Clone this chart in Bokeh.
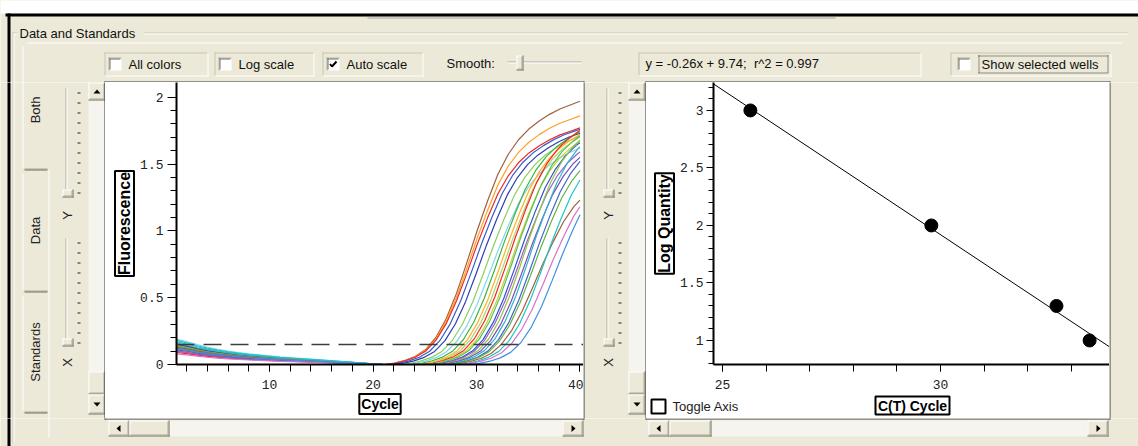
import numpy as np
from bokeh.plotting import figure
from bokeh.layouts import column, row
from bokeh.models import Range1d, Span, FixedTicker, NumeralTickFormatter, Title
from bokeh.embed import file_html
from bokeh.resources import INLINE
from bokeh.core.properties import value

# ------------------------------------------------------------------ data
# baseline part of the amplification curves (relative to each curve's start level)
BASE_CYCLES = list(range(1, 22))
BASE_SHAPE = [1.00, 0.90, 0.78, 0.68, 0.60, 0.53, 0.47, 0.42, 0.38, 0.34, 0.30,
              0.27, 0.24, 0.21, 0.18, 0.15, 0.12, 0.09, 0.06, 0.03, 0.00]
# rising part of the earliest (brown) curve, read cycle by cycle
RISE_CYCLES = list(range(21, 41))
RISE_REF = [0.00, 0.01, 0.03, 0.06, 0.11, 0.20, 0.34, 0.53, 0.76, 1.00,
            1.22, 1.42, 1.57, 1.68, 1.76, 1.82, 1.87, 1.91, 1.94, 1.97]
# per well: colour, cycle where it crosses the threshold, value at cycle 40, value at cycle 1
CURVE_COLORS = ["#A0603C", "#FFA020", "#F02828", "#3A5CC8", "#2840B0", "#8CD05C",
                "#88D4EC", "#3CB43C", "#FFB028", "#A4D870", "#FF2020", "#C4D034",
                "#58C058", "#3050D0", "#9464C4", "#94C444", "#7C50B4", "#30B4D4",
                "#4464CC", "#64B444", "#A0603C", "#20C4C8", "#D474CC", "#4090E0"]
CURVE_CT = [25.5, 25.6, 25.7, 26.1, 26.6, 27.3, 27.8, 28.3, 28.7, 29.0, 29.3, 29.6,
            29.8, 30.2, 30.4, 30.7, 31.0, 31.3, 31.7, 31.9, 32.4, 32.8, 33.3, 34.1]
CURVE_END = [1.97, 1.86, 1.77, 1.76, 1.73, 1.71, 1.62, 1.74, 1.72, 1.70, 1.75, 1.67,
             1.71, 1.66, 1.59, 1.68, 1.55, 1.63, 1.52, 1.45, 1.23, 1.38, 1.18, 1.12]
CURVE_START = [0.14, 0.12, 0.10, 0.15, 0.13, 0.12, 0.19, 0.13, 0.11, 0.14, 0.09, 0.12,
               0.16, 0.15, 0.10, 0.13, 0.12, 0.17, 0.11, 0.14, 0.13, 0.18, 0.08, 0.12]
THRESHOLD = 0.15
LAST_CYCLE = 40

# standards
STD_CT = [25.64, 29.79, 32.66, 33.42]
STD_LOGQ = [3.0, 2.0, 1.3, 1.0]
FIT_TEXT = "y = -0.26x + 9.74;\u00a0 r^2 = 0.997"

AMP_X_TICKS = [10, 20, 30, 40]
AMP_X_MINOR = list(range(2, 41, 2))
AMP_Y_TICKS = [0, 0.5, 1, 1.5, 2]
AMP_Y_MINOR = [round(0.1 * k, 1) for k in range(0, 21)]
STD_X_TICKS = [25, 30]
STD_X_MINOR = list(range(25, 34))
STD_Y_TICKS = [1, 1.5, 2, 2.5, 3]
STD_Y_MINOR = [round(0.1 * k, 1) for k in range(8, 33)]

CHECK_LABELS = ["All colors", "Log scale", "Auto scale"]
TAB_LABELS = ["Both", "Data", "Standards"]

# ------------------------------------------------------------------ layout
W, H = 1138, 446
TOP_H, MID_H, BOT_H = 82, 336, 28
STRIP_Y = 394
BEIGE = "#ECE9D8"
ETCH = "#C8C5B4"
SHADOW = "#ACA899"
DARK = "#716F64"
TRACK = "#F5F4EE"
BORDER = "#3A3A3A"
UI_FONT = "Liberation Sans"

AMP_FRAME = (176, 82, 583, 364)
AMP_XR = (1, 40.34)
AMP_YR = (0, 2.11)
STD_FRAME = (713, 82, 1109, 364)
STD_XR = (24.794, 33.876)
STD_YR = (0.791, 3.243)


def chrome_fig(x0, y0, w, h, bg):
    f = figure(width=w, height=h, x_range=Range1d(x0, x0 + w), y_range=Range1d(y0 + h, y0),
               output_backend="svg", toolbar_location=None, title=None,
               x_axis_location=None, y_axis_location=None, min_border=0,
               frame_align=False)
    f.grid.visible = False
    f.outline_line_color = None
    f.background_fill_color = bg
    f.border_fill_color = bg
    return f


CH = []


def add_region(x0, y0, w, h, bg=BEIGE):
    f = chrome_fig(x0, y0, w, h, bg)
    CH.append((f, (x0, y0, x0 + w, y0 + h)))
    return f


def on(x0, y0, x1, y1):
    return [f for f, (a, b, c, d) in CH if x0 < c and x1 > a and y0 < d and y1 > b]


def box(x0, y0, x1, y1, fill, line=None, lw=1):
    for f in on(x0, y0, x1, y1):
        f.quad(left=[x0], right=[x1], top=[y0], bottom=[y1], fill_color=fill,
               line_color=line, line_width=lw)


def hline(x0, x1, y, color, dash="solid"):
    for f in on(x0, y, x1, y + 1):
        f.segment(x0=[x0], y0=[y + 0.5], x1=[x1], y1=[y + 0.5], line_color=color,
                  line_width=1, line_dash=dash)


def vline(x, y0, y1, color, dash="solid"):
    for f in on(x, y0, x + 1, y1):
        f.segment(x0=[x + 0.5], y0=[y0], x1=[x + 0.5], y1=[y1], line_color=color,
                  line_width=1, line_dash=dash)


def text(x, y, s, size="13px", color="#111111", angle=0.0, align="left", style="normal"):
    for f in on(x - 0.5, y - 0.5, x + 0.5, y + 0.5):
        f.text(x=[x], y=[y], text=[s], angle=angle, text_font=value(UI_FONT),
               text_font_size=size, text_color=color, text_align=align,
               text_baseline="middle", text_font_style=style)


def tri(cx, cy, d):
    if d == "up":
        xs, ys = [cx - 3.5, cx + 3.5, cx], [cy + 2, cy + 2, cy - 2]
    elif d == "down":
        xs, ys = [cx - 3.5, cx + 3.5, cx], [cy - 2, cy - 2, cy + 2]
    elif d == "left":
        xs, ys = [cx + 2, cx + 2, cx - 2], [cy - 3.5, cy + 3.5, cy]
    else:
        xs, ys = [cx - 2, cx - 2, cx + 2], [cy - 3.5, cy + 3.5, cy]
    for f in on(cx - 3, cy - 3, cx + 3, cy + 3):
        f.patch(xs, ys, fill_color="black", line_color=None)


def raised(x0, y0, x1, y1):
    box(x0, y0, x1, y1, BEIGE)
    hline(x0, x1 - 1, y0, "#FFFFFF")
    vline(x0, y0, y1 - 1, "#FFFFFF")
    hline(x0, x1, y1 - 1, DARK)
    vline(x1 - 1, y0, y1, DARK)
    hline(x0 + 1, x1 - 1, y1 - 2, SHADOW)
    vline(x1 - 2, y0 + 1, y1 - 1, SHADOW)


def checkbox(x0, y0, s=13, checked=False):
    box(x0, y0, x0 + s, y0 + s, "white")
    hline(x0, x0 + s, y0, SHADOW)
    vline(x0, y0, y0 + s, SHADOW)
    hline(x0 + 1, x0 + s - 1, y0 + 1, DARK)
    vline(x0 + 1, y0 + 1, y0 + s - 1, DARK)
    if checked:
        for f in on(x0, y0, x0 + s, y0 + s):
            f.line([x0 + 3.5, x0 + 5.5, x0 + 10], [y0 + 6.5, y0 + 9, y0 + 4],
                   line_color="black", line_width=2)


def etched(x0, y0, x1, y1):
    hline(x0, x1, y0, ETCH)
    vline(x0, y0, y1, ETCH)
    hline(x0, x1, y1 - 1, "white")
    vline(x1 - 1, y0, y1, "white")


def vslider(x, y0, y1, thumb_y, letter, label_y):
    vline(x - 1, y0, y1, SHADOW)
    vline(x, y0, y1, "white")
    for k in range(11):
        ty = y0 + 4 + k * 10
        hline(x + 11, x + 14, ty, "#222222")
    raised(x - 4, thumb_y - 4, x + 7, thumb_y + 4)
    text(x + 1, label_y, letter, size="13px", color="#222222", angle=np.pi / 2, align="center")


def vscroll(x0, x1, y0, y1):
    box(x0, y0, x1, y1, TRACK)
    raised(x0, y0, x1, y0 + 18)
    tri((x0 + x1) / 2, y0 + 9, "up")
    raised(x0, y1 - 43, x1, y1 - 20)
    raised(x0, y1 - 20, x1, y1)
    tri((x0 + x1) / 2, y1 - 10, "down")


def hscroll(x0, x1, y0, y1, thumb_w):
    box(x0, y0, x1, y1, TRACK)
    raised(x0, y0, x0 + 21, y1)
    tri(x0 + 10, (y0 + y1) / 2, "left")
    raised(x0 + 21, y0, x0 + 21 + thumb_w, y1)
    raised(x1 - 21, y0, x1, y1)
    tri(x1 - 10, (y0 + y1) / 2, "right")


top = add_region(0, 0, W, TOP_H)
lch = add_region(0, TOP_H, 105, MID_H)
mch = add_region(583, TOP_H, 63, MID_H)
rch = add_region(1109, TOP_H, 29, MID_H)
bot = add_region(0, TOP_H + MID_H, W, BOT_H)
strip = add_region(646, STRIP_Y, 463, TOP_H + MID_H - STRIP_Y, bg="white")

# window frame
box(0, 0, W, 13, "white")
box(5, 13, W, 16, "black")
box(7, 13, 10, H, "black")
hline(367, 835, 17, "#A7A6A0")
# group box
hline(12, 17, 32, ETCH)
hline(12, 17, 33, "white")
hline(143, 1128, 32, ETCH)
hline(143, 1128, 33, "white")
vline(12, 32, 442, ETCH)
vline(13, 33, 442, "white")
text(19, 32.5, "Data and Standards")
# tab page
hline(27, 1122, 42, "white")
tab_edges = [(42, 169), (169, 291), (291, 412)]
for (ya, yb), name in zip(tab_edges, TAB_LABELS):
    vline(22, ya + 4, yb - 2, "white")
    hline(24, 47, yb - 1, SHADOW)
    hline(24, 47, yb, DARK)
    text(35, (ya + yb) / 2 + 4 if name == "Both" else (ya + yb) / 2, name,
         color="#222222", angle=np.pi / 2, align="center")
vline(48, 169, 437, "white")

# option check boxes
cb_frames = [(104, 208), (214, 314), (322, 423)]
for (fx0, fx1), name in zip(cb_frames, CHECK_LABELS):
    etched(fx0, 52, fx1, 76)
    checkbox(fx0 + 4, 57, checked=(name == "Auto scale"))
    text(fx0 + 24, 64, name)
text(446, 63, "Smooth:")
hline(507, 581, 61, SHADOW)
hline(507, 581, 62, "white")
raised(516, 55, 523, 70)
# regression text and show-wells box
etched(638, 52, 921, 76)
text(645, 63, FIT_TEXT)
etched(950, 52, 1111, 76)
checkbox(957, 57)
hline(978, 1108, 55, "#333333", dash="1 1")
hline(978, 1108, 72, "#333333", dash="1 1")
vline(978, 55, 73, "#333333", dash="1 1")
vline(1107, 55, 73, "#333333", dash="1 1")
text(981, 64, "Show selected wells")

# sliders and scroll bars
vslider(66, 88, 197, 193, "Y", 215)
vslider(66, 238, 345, 342, "X", 362)
vslider(607, 88, 197, 193, "Y", 215)
vslider(607, 238, 345, 342, "X", 362)
vscroll(88, 105, 82, 414)
vscroll(628, 645, 82, 414)
hscroll(108, 583, 420, 436, 40)
hscroll(648, 1108, 420, 436, 42)

# plot box borders
for bx0, bx1 in [(104, 583), (645, 1109)]:
    hline(bx0, bx1 + 1, 81, BORDER)
    hline(bx0, bx1 + 1, 418, BORDER)
    vline(bx0, 81, 419, BORDER)
    vline(bx1, 81, 419, BORDER)

# bottom strip of the standard-curve box: axis title and toggle check box
box(875, 396, 949, 414, "white", line="black", lw=2)
text(912, 405, "C(T) Cycle", size="14px", color="black", align="center", style="bold")
box(651, 399, 665, 413, "white", line="black", lw=2)
text(672, 406, "Toggle Axis", color="#222222")


# ------------------------------------------------------------------ charts
def chart(left_px, right_px, bottom_px, frame, xr, yr):
    p = figure(width=right_px - left_px, height=bottom_px - TOP_H, x_range=Range1d(*xr),
               y_range=Range1d(*yr), output_backend="svg", toolbar_location=None,
               title=None, min_border_left=frame[0] - left_px, min_border_right=0,
               min_border_top=0, min_border_bottom=bottom_px - frame[3],
               frame_align=False)
    p.grid.visible = False
    p.outline_line_color = None
    p.background_fill_color = "white"
    p.border_fill_color = "white"
    p.axis.axis_line_width = 2
    p.axis.axis_line_color = "black"
    p.axis.major_tick_in = 0
    p.axis.minor_tick_in = 0
    p.axis.major_tick_line_color = "black"
    p.axis.minor_tick_line_color = "black"
    p.axis.major_label_text_font = "Liberation Mono"
    p.axis.major_label_text_font_size = "13px"
    p.axis.major_label_text_color = "#222222"
    p.axis.formatter = NumeralTickFormatter(format="0.[0]")
    p.xaxis.major_tick_out = 7
    p.xaxis.minor_tick_out = 7
    p.xaxis.major_label_standoff = 8
    return p


def axis_title(p, s, place, size="15px", standoff=0, padding=1):
    p.add_layout(Title(text=s, align="center", text_font=UI_FONT, text_font_style="bold",
                       text_font_size=size, text_color="black",
                       background_fill_color="white", border_line_color="black",
                       border_line_width=2, padding=padding, standoff=standoff), place)


# amplification plot
amp = chart(105, 583, TOP_H + MID_H, AMP_FRAME, AMP_XR, AMP_YR)
amp.xaxis.ticker = FixedTicker(ticks=AMP_X_TICKS, minor_ticks=AMP_X_MINOR)
amp.yaxis.ticker = FixedTicker(ticks=AMP_Y_TICKS, minor_ticks=AMP_Y_MINOR)
amp.yaxis.major_tick_out = 9
amp.yaxis.minor_tick_out = 6
amp.yaxis.major_label_standoff = 4


def ref_at(c):
    return float(np.interp(c, RISE_CYCLES, RISE_REF))


def ref_cycle_at(v):
    return float(np.interp(v, RISE_REF, RISE_CYCLES))


for color, ct, end, start in zip(CURVE_COLORS, CURVE_CT, CURVE_END, CURVE_START):
    scale, shift = 1.0, 0.0
    for _ in range(10):
        shift = ct - ref_cycle_at(THRESHOLD / scale)
        scale = end / ref_at(LAST_CYCLE - shift)
    xs = list(BASE_CYCLES)
    ys = [start * b for b in BASE_SHAPE]
    for c, r in zip(RISE_CYCLES, RISE_REF):
        if BASE_CYCLES[-1] < c + shift < LAST_CYCLE:
            xs.append(c + shift)
            ys.append(r * scale)
    xs.append(LAST_CYCLE)
    ys.append(end)
    amp.line(xs, ys, line_color=color, line_width=1.2)

amp.add_layout(Span(location=THRESHOLD, dimension="width", line_color="#3C3C3C",
                    line_width=1.5, line_dash="18 9"))
axis_title(amp, "Fluorescence", "left", size="16px", standoff=7)
axis_title(amp, "Cycle", "below", size="14px", standoff=1, padding=2)

# standard curve
std = chart(646, 1109, STRIP_Y, STD_FRAME, STD_XR, STD_YR)
std.xaxis.ticker = FixedTicker(ticks=STD_X_TICKS, minor_ticks=STD_X_MINOR)
std.yaxis.ticker = FixedTicker(ticks=STD_Y_TICKS, minor_ticks=STD_Y_MINOR)
std.yaxis.major_tick_out = 7
std.yaxis.minor_tick_out = 5
std.yaxis.major_label_standoff = 3

slope, intercept = np.polyfit(STD_CT, STD_LOGQ, 1)
fit_x = [STD_XR[0], STD_XR[1]]
fit_y = [slope * v + intercept for v in fit_x]
std.line(fit_x, fit_y, line_color="black", line_width=1)
std.scatter(STD_CT, STD_LOGQ, size=13, color="black")
axis_title(std, "Log Quantity", "left", size="16px", standoff=7)

layout = column(top, row(lch, amp, mch, column(std, strip), rch), bot)
open("out.html", "w").write(file_html(layout, INLINE))
